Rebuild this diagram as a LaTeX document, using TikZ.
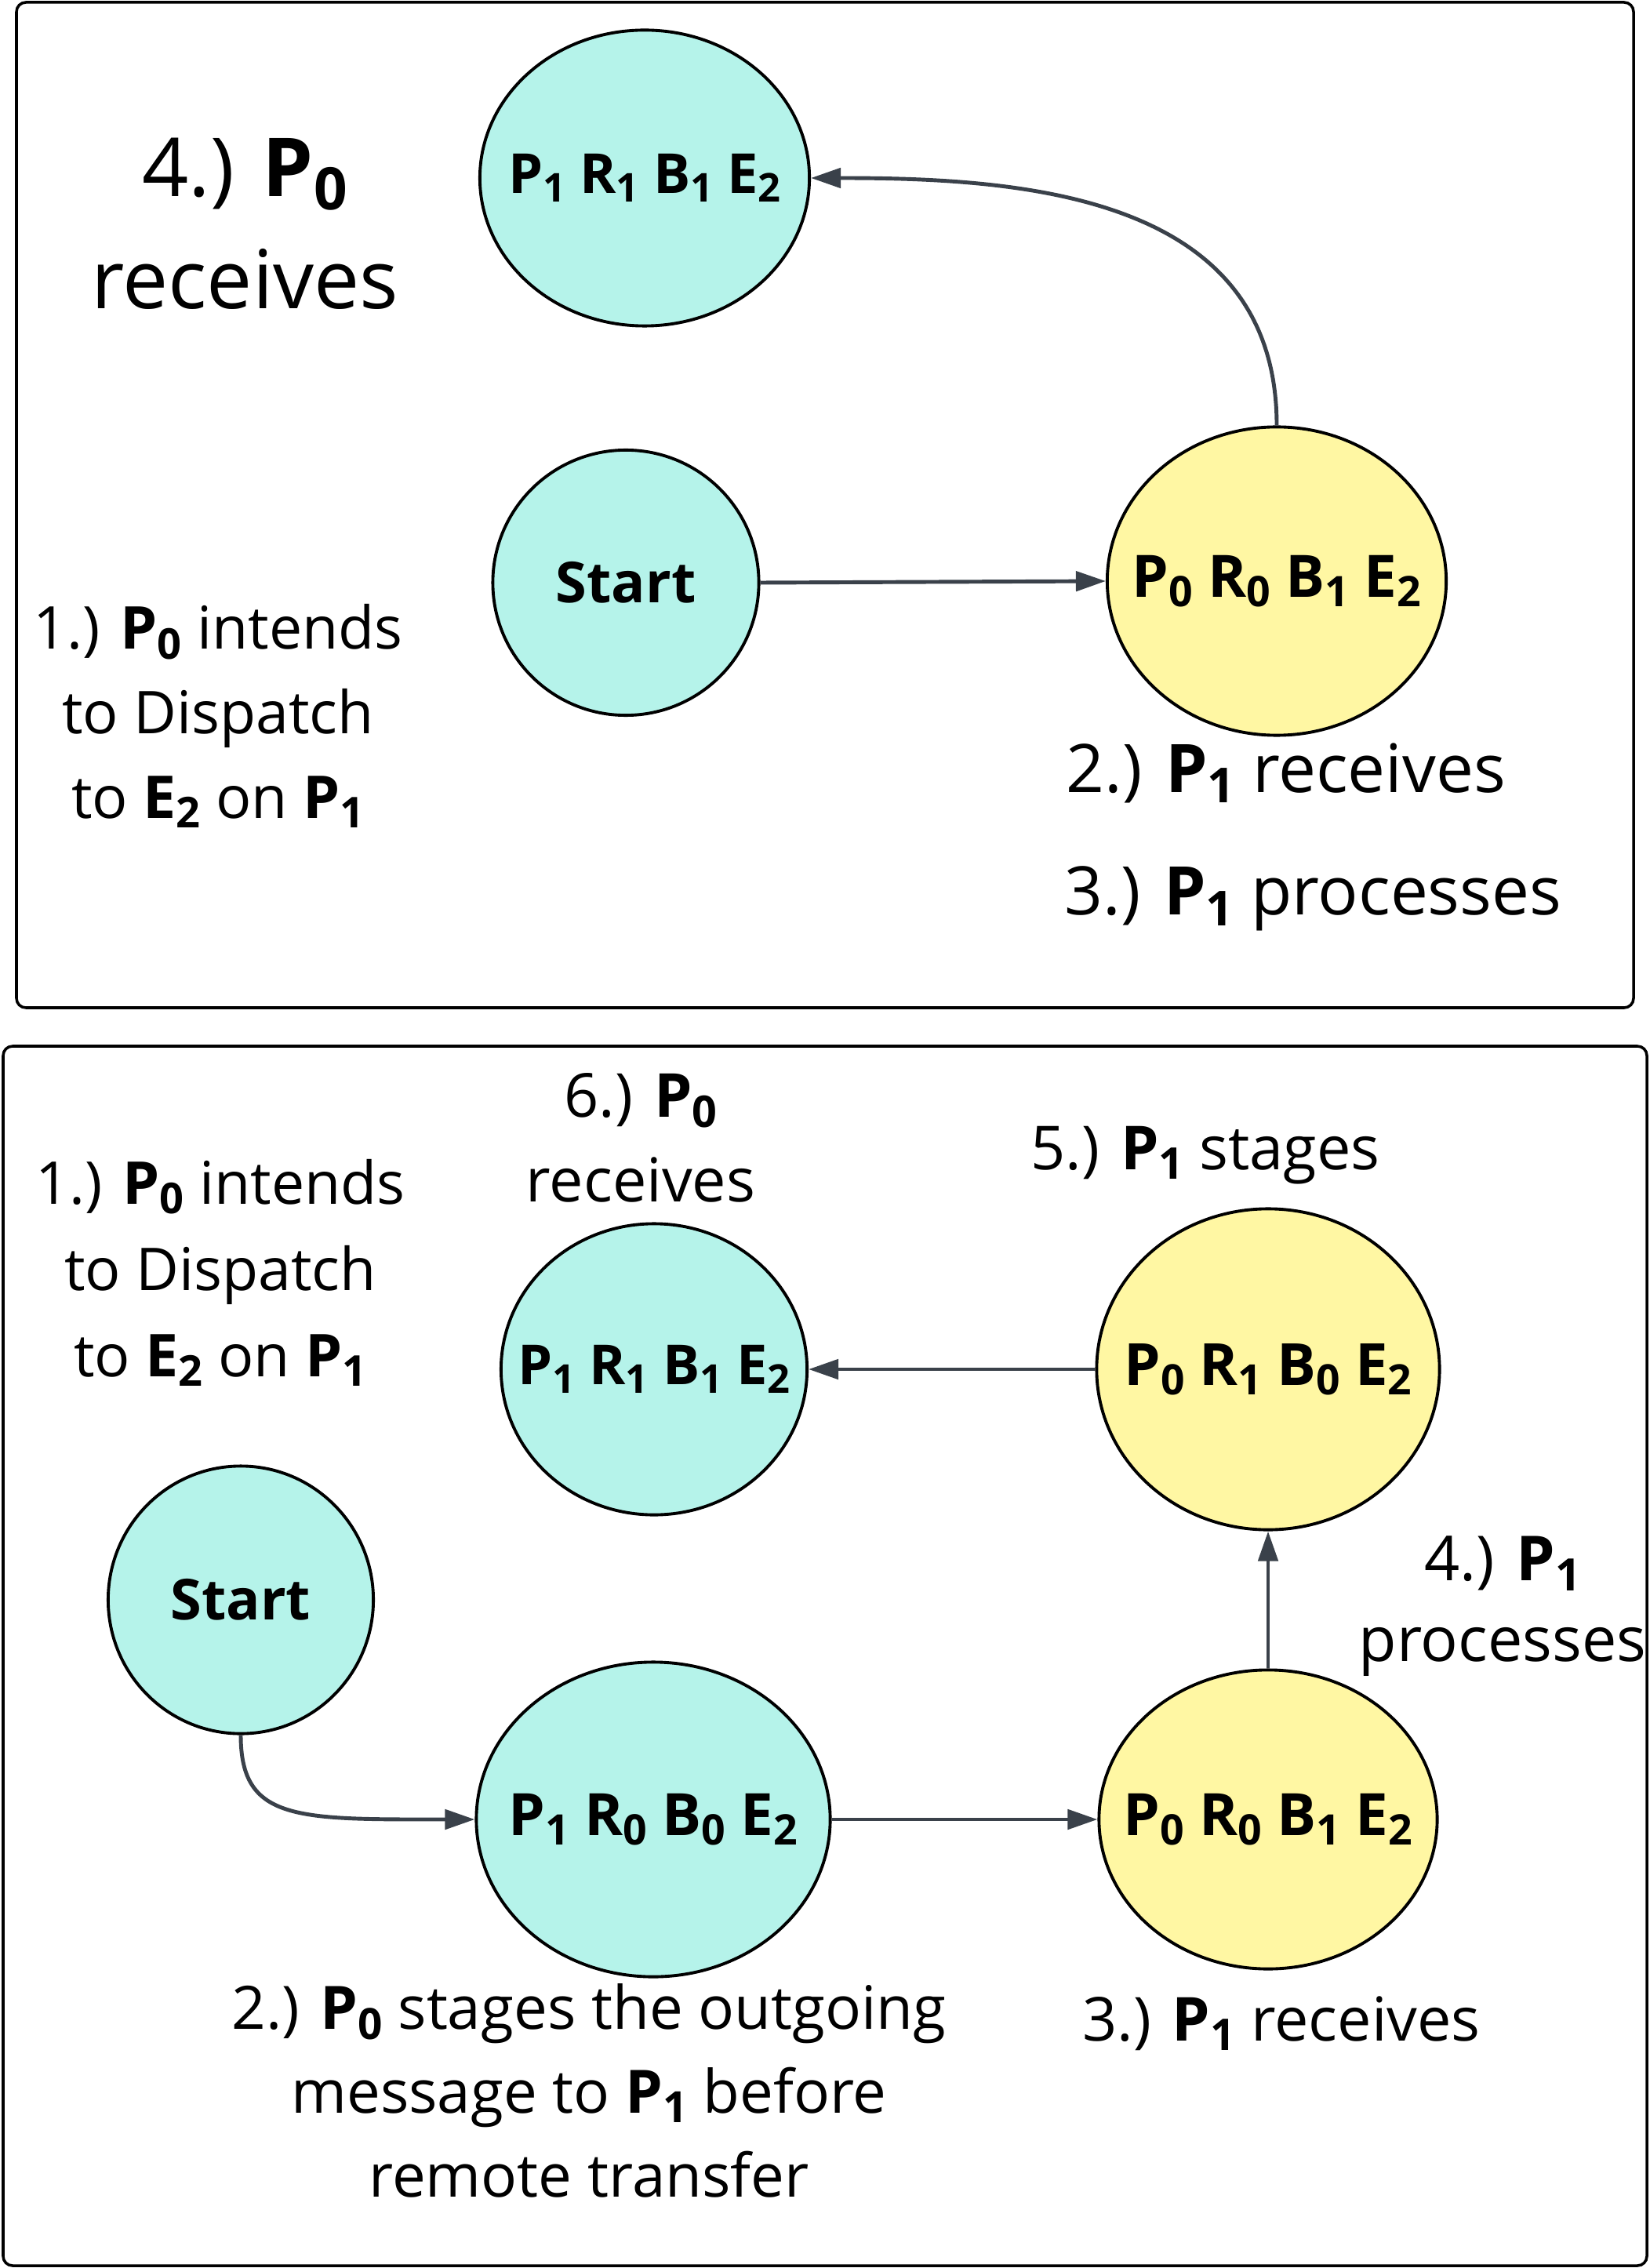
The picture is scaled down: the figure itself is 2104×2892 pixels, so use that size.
\documentclass[tikz,border=0pt]{standalone}
\usepackage{fontspec}
\setmainfont{Open Sans}
\usetikzlibrary{arrows.meta,shapes.geometric}
\definecolor{cyanc}{RGB}{181,243,234}
\definecolor{yellowc}{RGB}{255,247,163}
\definecolor{arrowc}{RGB}{58,65,74}
\newcommand\Sb[1]{\raisebox{-0.3ex}{\scalebox{0.72}{#1}}}
\newcommand\fs[2]{\fontsize{#1}{#2}\selectfont}
\newcommand\ZW[1]{\makebox[0pt][c]{#1}}
\begin{document}
\begin{tikzpicture}[x=0.01cm,y=-0.01cm,
  state/.style={ellipse, draw=black, line width=1.1pt, inner sep=0pt,
    font=\bfseries\fs{20.5}{24}},
  cyanst/.style={state, fill=cyanc},
  yellowst/.style={state, fill=yellowc},
  conn/.style={draw=arrowc, line width=1.4pt, -{Triangle[length=0.38cm,width=0.25cm]}},
  lbl/.style={align=center, font=\fs{22}{30.6}, inner sep=0pt, anchor=base},
  panel/.style={draw=black, line width=1pt, rounded corners=0.12cm}]
\useasboundingbox (0,0) rectangle (2104,2892);
\fill[white] (0,0) rectangle (2104,2892);
% panels
\draw[panel] (21,3) rectangle (2083,1285);
\draw[panel] (4,1334) rectangle (2100,2889);
% top panel nodes
\node[cyanst, minimum width=4.2cm, minimum height=3.77cm, font=\bfseries\fs{20}{24}] (t1) at (822,227)
  {\ZW{P\Sb{1} R\Sb{1} B\Sb{1} E\Sb{2}}};
\node[cyanst, minimum width=3.39cm, minimum height=3.38cm] (tstart) at (798,743) {\ZW{Start}};
\node[yellowst, minimum width=4.32cm, minimum height=3.93cm, font=\bfseries\fs{21.2}{24}] (ty) at (1628,741)
  {\ZW{P\Sb{0} R\Sb{0} B\Sb{1} E\Sb{2}}};
% top connectors
\draw[conn] (tstart.east) -- (ty.west);
\draw[conn] (ty.north) .. controls +(0,-295) and +(268,0) .. (t1.east);
% top labels (multi-line labels are placed by the baseline of their last line)
\node[lbl, font=\fs{29.5}{40.8}] (tl4) at (312,394) {4.) \textbf{P\Sb{0}}\\receives};
\node[lbl, font=\fs{21.4}{30.6}] (tl1) at (278,1043) {1.) \textbf{P\Sb{0}} intends\\to Dispatch\\to \textbf{E\Sb{2}} on \textbf{P\Sb{1}}};
\node[lbl, font=\fs{24.3}{30}, anchor=base west] (tl2) at (1359,1010) {2.) \textbf{P\Sb{1}} receives};
\node[lbl, font=\fs{24.3}{30}, anchor=base west] (tl3) at (1357,1166) {3.) \textbf{P\Sb{1}} processes};
% bottom panel nodes
\node[cyanst, minimum width=3.9cm, minimum height=3.71cm, font=\bfseries\fs{20}{24}] (b6) at (834,1746)
  {\ZW{P\Sb{1} R\Sb{1} B\Sb{1} E\Sb{2}}};
\node[cyanst, minimum width=3.38cm, minimum height=3.41cm] (bstart) at (307,2040) {\ZW{Start}};
\node[cyanst, minimum width=4.51cm, minimum height=4.01cm, font=\bfseries\fs{21.2}{24}] (b2) at (833,2320)
  {\ZW{P\Sb{1} R\Sb{0} B\Sb{0} E\Sb{2}}};
\node[yellowst, minimum width=4.37cm, minimum height=4.09cm, font=\bfseries\fs{21.1}{24}] (b5) at (1617,1746)
  {\ZW{P\Sb{0} R\Sb{1} B\Sb{0} E\Sb{2}}};
\node[yellowst, minimum width=4.31cm, minimum height=3.81cm, font=\bfseries\fs{21.2}{24}] (b3) at (1617,2320)
  {\ZW{P\Sb{0} R\Sb{0} B\Sb{1} E\Sb{2}}};
% bottom connectors
\draw[conn] (bstart.south) .. controls +(0,110) and +(-227,0) .. (b2.west);
\draw[conn] (b2.east) -- (b3.west);
\draw[conn] (b3.north) -- (b5.south);
\draw[conn] (b5.west) -- (b6.east);
% bottom labels
\node[lbl] (bl6) at (817,1532) {6.) \textbf{P\Sb{0}}\\receives};
\node[lbl] (bl5) at (1537,1491) {5.) \textbf{P\Sb{1}} stages};
\node[lbl, font=\fs{21.4}{31.2}] (bl1) at (281,1755) {1.) \textbf{P\Sb{0}} intends\\to Dispatch\\to \textbf{E\Sb{2}} on \textbf{P\Sb{1}}};
\node[lbl, font=\fs{22.5}{29.2}] (bl4) at (1916,2118) {4.) \textbf{P\Sb{1}}\\processes};
\node[lbl, font=\fs{21.7}{30.3}] (bl2) at (751,2801) {2.) \textbf{P\Sb{0}} stages the outgoing\\message to \textbf{P\Sb{1}} before\\remote transfer};
\node[lbl] (bl3) at (1634,2602) {3.) \textbf{P\Sb{1}} receives};
\end{tikzpicture}
\end{document}
